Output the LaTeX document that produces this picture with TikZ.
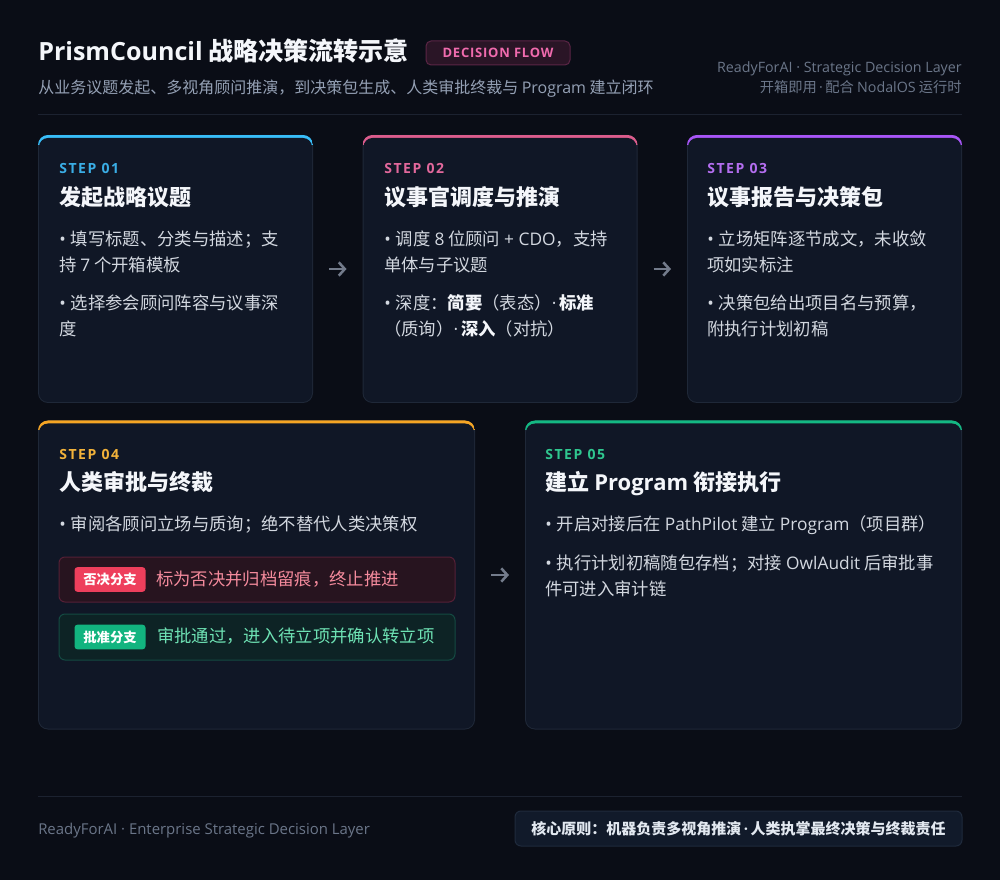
\documentclass[tikz,border=0pt]{standalone}
\usepackage{fontspec}
\setmainfont{Noto Sans CJK SC}
\newfontfamily\lat{Open Sans}
\usetikzlibrary{arrows.meta}
\definecolor{bgc}{HTML}{0A0D16}
\definecolor{boxc}{HTML}{101726}
\definecolor{linec}{HTML}{1F2838}
\definecolor{sepc}{HTML}{1C2230}
\definecolor{titc}{HTML}{F4F6FA}
\definecolor{bodc}{HTML}{D3D8E0}
\definecolor{subc}{HTML}{94A0B4}
\definecolor{mutc}{HTML}{6B7689}
\definecolor{arrc}{HTML}{737B8B}
\definecolor{accA}{HTML}{38BDF8}
\definecolor{accB}{HTML}{DB5C8C}
\definecolor{accC}{HTML}{A855F7}
\definecolor{accD}{HTML}{F5A524}
\definecolor{accE}{HTML}{14B883}
\definecolor{lblA}{HTML}{3AAEE6}
\definecolor{lblB}{HTML}{E2689C}
\definecolor{lblC}{HTML}{B46EF0}
\definecolor{lblD}{HTML}{F2B23A}
\definecolor{lblE}{HTML}{2FC78F}
\definecolor{badgef}{HTML}{2A1526}
\definecolor{badgeb}{HTML}{5A2545}
\definecolor{badget}{HTML}{F06BAE}
\definecolor{redf}{HTML}{27141F}
\definecolor{redb}{HTML}{552036}
\definecolor{redtag}{HTML}{EE3F5C}
\definecolor{redt}{HTML}{F48A9C}
\definecolor{grnf}{HTML}{0D2325}
\definecolor{grnb}{HTML}{144A42}
\definecolor{grntag}{HTML}{12B47F}
\definecolor{grnt}{HTML}{6EE2B4}
\definecolor{footf}{HTML}{111A2A}
\definecolor{footb}{HTML}{1F2A3C}
\definecolor{foott}{HTML}{E2E8F0}
\newcommand\dotsep{{\lat\,·\,}}
\newcommand\bul{{\lat•}\hspace{0.3em}}
\newcommand\mkbox[6]{%
  \node[shell, minimum width=#4*0.75pt, minimum height=#5*0.75pt] (#1) at (#2,#3) {};
  \begin{scope}
    \clip[rounded corners=7.5pt] (#1.north west) rectangle (#1.south east);
    \fill[#6] (#1.north west) rectangle ([yshift=-7.5pt]#1.north east);
  \end{scope}
  \fill[boxc, rounded corners=6.75pt] ([xshift=0.75pt,yshift=-2.25pt]#1.north west) rectangle ([xshift=-0.75pt,yshift=0.75pt]#1.south east);
}
\begin{document}
\begin{tikzpicture}[x=0.75pt,y=-0.75pt,
  shell/.style={fill=linec, rounded corners=7.5pt, inner sep=0, outer sep=0},
  lbl/.style={anchor=base west, inner sep=0, font=\lat\bfseries\fontsize{10.5pt}{12pt}\selectfont\addfontfeature{LetterSpace=11}},
  ttl/.style={anchor=base west, inner sep=0, text=titc, font=\bfseries\fontsize{16.5pt}{20pt}\selectfont},
  bd/.style={anchor=base west, inner sep=0, text=bodc, font=\fontsize{13pt}{19.5pt}\selectfont},
  badge/.style={draw=badgeb, fill=badgef, rounded corners=3.75pt, text=badget, minimum width=108pt, minimum height=18pt, inner sep=0, line width=0.75pt, font=\lat\bfseries\fontsize{9.75pt}{12pt}\selectfont\addfontfeature{LetterSpace=6}},
  branch/.style={rounded corners=4.5pt, line width=0.75pt, minimum width=297pt, inner sep=0},
  tagbox/.style={rounded corners=2.25pt, minimum width=53.25pt, minimum height=18.5pt, inner sep=0, text=white, font=\bfseries\fontsize{10pt}{12pt}\selectfont},
  flow/.style={draw=arrc, line width=1.9pt, -{Straight Barb[length=4.5pt,width=10pt,line width=1.9pt]}},
]
\fill[bgc] (0,0) rectangle (1000,880);
\useasboundingbox (0,0) rectangle (1000,880);

% header
\node[anchor=base west, inner sep=0, text=titc, font=\bfseries\fontsize{18.8pt}{22pt}\selectfont] (title) at (38,61) {{\lat PrismCouncil} 战略决策流转示意};
\node[badge] (badge) at (498,53) {DECISION FLOW};
\node[anchor=base west, inner sep=0, text=subc, font=\fontsize{12pt}{14pt}\selectfont] (sub) at (38,94) {从业务议题发起、多视角顾问推演，到决策包生成、人类审批终裁与 {\lat Program} 建立闭环};
\node[anchor=base east, inner sep=0, text=mutc, font=\lat\fontsize{10.7pt}{12pt}\selectfont] (r1) at (962,73) {ReadyForAI · Strategic Decision Layer};
\node[anchor=base east, inner sep=0, text=mutc, font=\fontsize{10.7pt}{12pt}\selectfont] (r2) at (962,93) {开箱即用\dotsep 配合 {\lat NodalOS} 运行时};
\draw[sepc, line width=0.75pt] (38,115) -- (962,115);

% row 1 boxes
\mkbox{s1}{175.5}{269}{275}{268}{accA}
\mkbox{s2}{500}{269}{275}{268}{accB}
\mkbox{s3}{824.5}{269}{275}{268}{accC}

\node[lbl, text=lblA] (l1) at (59,174) {STEP 01};
\node[ttl] (t1) at (59,206) {发起战略议题};
\node[bd] (b1a) at (59,246) {\bul 填写标题、分类与描述；支};
\node[bd] (b1b) at (59,272) {持 {\lat 7} 个开箱模板};
\node[bd] (b1c) at (59,310) {\bul 选择参会顾问阵容与议事深};
\node[bd] (b1d) at (59,336) {度};

\node[lbl, text=lblB] (l2) at (384,174) {STEP 02};
\node[ttl] (t2) at (384,206) {议事官调度与推演};
\node[bd] (b2a) at (384,246) {\bul 调度 {\lat 8} 位顾问 {\lat + CDO}，支持};
\node[bd] (b2b) at (384,272) {单体与子议题};
\node[bd] (b2c) at (384,310) {\bul 深度：{\color{titc}\bfseries 简要}（表态）{\lat·}\,{\color{titc}\bfseries 标准}};
\node[bd] (b2d) at (384,336) {（质询）{\lat·}\,{\color{titc}\bfseries 深入}（对抗）};

\node[lbl, text=lblC] (l3) at (707,174) {STEP 03};
\node[ttl] (t3) at (707,206) {议事报告与决策包};
\node[bd] (b3a) at (707,246) {\bul 立场矩阵逐节成文，未收敛};
\node[bd] (b3b) at (707,272) {项如实标注};
\node[bd] (b3c) at (707,310) {\bul 决策包给出项目名与预算，};
\node[bd] (b3d) at (707,336) {附执行计划初稿};

\draw[flow, shorten <=12pt, shorten >=12pt] (s1) -- (s2);
\draw[flow, shorten <=12pt, shorten >=12pt] (s2) -- (s3);

% row 2 boxes
\mkbox{s4}{256.5}{575}{437}{309}{accD}
\mkbox{s5}{743.5}{575}{437}{309}{accE}

\node[lbl, text=lblD] (l4) at (59,460) {STEP 04};
\node[ttl] (t4) at (59,491) {人类审批与终裁};
\node[bd] (b4a) at (59,531) {\bul 审阅各顾问立场与质询；绝不替代人类决策权};

\node[branch, draw=redb, fill=redf, minimum height=33.75pt] (rb) at (257,579.5) {};
\node[tagbox, fill=redtag] (rtag) at (110,579.5) {否决分支};
\node[bd, text=redt] (rtx) at (156,585) {标为否决并归档留痕，终止推进};

\node[branch, draw=grnb, fill=grnf, minimum height=34.5pt] (gb) at (257,637) {};
\node[tagbox, fill=grntag] (gtag) at (110,637) {批准分支};
\node[bd, text=grnt] (gtx) at (157,642) {审批通过，进入待立项并确认转立项};

\node[lbl, text=lblE] (l5) at (545,460) {STEP 05};
\node[ttl] (t5) at (545,491) {建立 {\lat Program} 衔接执行};
\node[bd] (b5a) at (545,531) {\bul 开启对接后在 {\lat PathPilot} 建立 {\lat Program}（项目群）};
\node[bd] (b5b) at (545,569) {\bul 执行计划初稿随包存档；对接 {\lat OwlAudit} 后审批事};
\node[bd] (b5c) at (545,595) {件可进入审计链};

\draw[flow, shorten <=12pt, shorten >=12pt] (s4) -- (s5);

% footer
\draw[sepc, line width=0.75pt] (38,796) -- (962,796);
\node[anchor=base west, inner sep=0, text=mutc, font=\lat\fontsize{11.2pt}{13pt}\selectfont] (fl) at (38,834) {ReadyForAI · Enterprise Strategic Decision Layer};
\node[draw=footb, fill=footf, rounded corners=4.5pt, line width=0.75pt, minimum width=335.25pt, minimum height=26.25pt, inner sep=0, text=foott, font=\bfseries\fontsize{11.25pt}{13pt}\selectfont] (fbox) at (738.5,828.5) {核心原则：机器负责多视角推演\dotsep 人类执掌最终决策与终裁责任};
\end{tikzpicture}
\end{document}
